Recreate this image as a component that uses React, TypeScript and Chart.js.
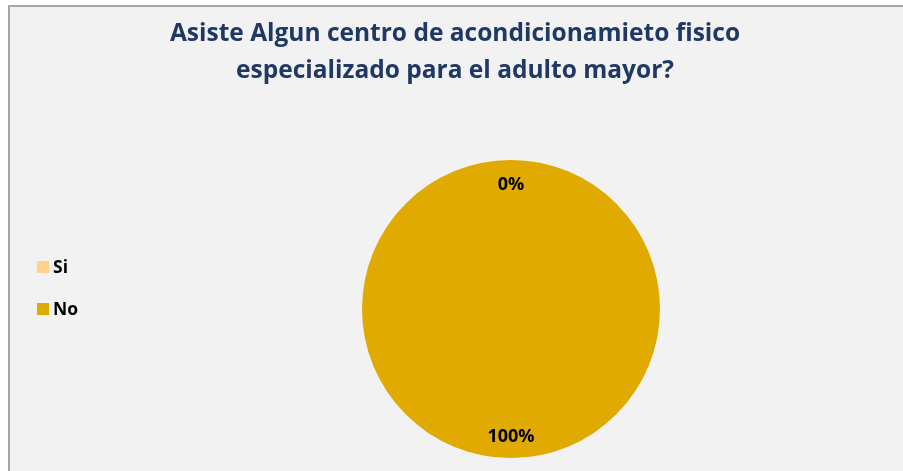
import React, { useEffect, useRef } from 'react';
import { Chart, registerables, layouts } from 'chart.js';

Chart.register(...registerables);

const categories = ['Si', 'No'];
const values = [0, 100];
const sliceColors = ['#ffd28a', '#e1aa00'];
const titleLines = ['Asiste Algun centro de acondicionamieto fisico', 'especializado para el adulto mayor?'];

const FONT = '"Open Sans", Lato, sans-serif';

const sideLegendPlugin: any = {
  id: 'sideLegend',
  beforeInit(chart: any) {
    const box: any = {
      position: 'left',
      weight: 0,
      fullSize: false,
      options: {},
      left: 0, top: 0, right: 0, bottom: 0, width: 0, height: 0,
      isHorizontal() { return false; },
      update(maxWidth: number, maxHeight: number) {
        this.width = 112;
        this.height = maxHeight;
        return { width: this.width, height: this.height };
      },
      draw() {
        const ctx = chart.ctx;
        const labels = chart.data.labels as string[];
        const bg = chart.data.datasets[0].backgroundColor as string[];
        const spacing = 42;
        const cy = (this.top + this.bottom) / 2 - 21 - ((labels.length - 1) * spacing) / 2;
        ctx.save();
        ctx.font = `bold 17.5px ${FONT}`;
        ctx.textBaseline = 'middle';
        ctx.textAlign = 'left';
        labels.forEach((lab, i) => {
          const y = cy + i * spacing;
          const x = this.left + 30;
          ctx.fillStyle = bg[i];
          ctx.fillRect(x, y - 6, 12, 12);
          ctx.fillStyle = '#000';
          ctx.fillText(lab, x + 16, y + 1);
        });
        ctx.restore();
      },
    };
    layouts.addBox(chart, box);
  },
};

const pctLabelPlugin: any = {
  id: 'pctLabels',
  afterDatasetsDraw(chart: any) {
    const ctx = chart.ctx;
    const meta = chart.getDatasetMeta(0);
    const data = chart.data.datasets[0].data as number[];
    const total = data.reduce((a, b) => a + b, 0);
    ctx.save();
    ctx.font = `bold 18px ${FONT}`;
    ctx.fillStyle = '#000';
    ctx.textAlign = 'center';
    ctx.textBaseline = 'middle';
    meta.data.forEach((arc: any, i: number) => {
      const p = arc.getProps(['x', 'y', 'startAngle', 'endAngle', 'outerRadius'], true);
      const mid = (p.startAngle + p.endAngle) / 2;
      const r = p.outerRadius * 0.848;
      ctx.fillText(Math.round((data[i] / total) * 100) + '%', p.x + Math.cos(mid) * r, p.y + Math.sin(mid) * r + 2);
    });
    ctx.restore();
  },
};

export default function App() {
  const ref = useRef<HTMLCanvasElement>(null);
  useEffect(() => {
    const chart = new Chart(ref.current as HTMLCanvasElement, {
      type: 'pie',
      data: {
        labels: categories,
        datasets: [
          {
            data: values,
            backgroundColor: sliceColors,
            borderWidth: 0,
          },
        ],
      },
      options: {
        responsive: false,
        maintainAspectRatio: false,
        animation: false,
        layout: { padding: { left: 7, right: 0, top: 0, bottom: 13 } },
        plugins: {
          legend: { display: false },
          tooltip: { enabled: false },
          title: {
            display: true,
            text: titleLines,
            color: '#1f3864',
            font: { family: FONT, size: 24.5, weight: 'bold', lineHeight: '37px' },
            padding: { top: 16, bottom: 70 },
          },
        },
      },
      plugins: [sideLegendPlugin, pctLabelPlugin],
    } as any);
    return () => chart.destroy();
  }, []);
  return (
    <div style={{ position: 'absolute', left: 0, top: 0, width: 903, height: 471, overflow: 'hidden', background: '#fff' }}>
      <div
        style={{
          position: 'absolute',
          left: 8,
          top: 5,
          width: 1000,
          height: 1000,
          borderTop: '2px solid #a6a6a6',
          borderLeft: '2px solid #a6a6a6',
          background: '#f2f2f2',
        }}
      />
      <canvas ref={ref} width={903} height={471} style={{ position: 'absolute', left: 0, top: 0, width: 903, height: 471 }} />
    </div>
  );
}
